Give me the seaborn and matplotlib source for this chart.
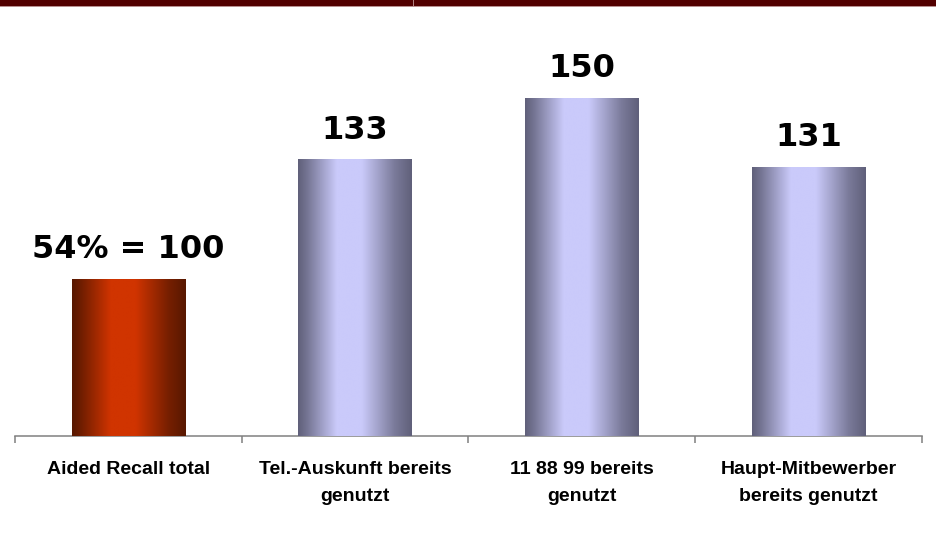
import matplotlib
matplotlib.use("Agg")
import matplotlib.pyplot as plt
import matplotlib.ticker as ticker
from matplotlib.colors import to_rgb
from matplotlib.patches import Rectangle
import numpy as np
import seaborn as sns

categories = [
    "Aided Recall total",
    "Tel.-Auskunft bereits\ngenutzt",
    "11 88 99 bereits\ngenutzt",
    "Haupt-Mitbewerber\nbereits genutzt",
]
values = [100, 133, 150, 131]
value_labels = ["54% = 100", "133", "150", "131"]
bar_styles = ["red", "blue", "blue", "blue"]

GRADIENTS = {
    "red": ("#581800", "#d03400"),
    "blue": ("#60607a", "#cacafa"),
}


def gradient_image(dark, light, n=200):
    t = np.linspace(0, 1, n)
    f = np.interp(t, [0, 0.08, 0.34, 0.56, 0.85, 1], [0, 0.2, 1, 1, 0.25, 0])
    d, l = np.array(to_rgb(dark)), np.array(to_rgb(light))
    row = d + (l - d) * f[:, None]
    return row[None, :, :]


sns.set_style("white")
fig = plt.figure(figsize=(9.37, 5.53), dpi=100)
ax = fig.add_axes([15 / 937, 1 - 436 / 553, 907 / 937, 396 / 553])

sns.barplot(x=list(range(len(values))), y=values, ax=ax, width=0.5,
            color="white", edgecolor="none", native_scale=True)

ymin, ymax = 56.35, 166.1
for patch, style in zip(ax.patches, bar_styles):
    x0, w, h = patch.get_x(), patch.get_width(), patch.get_height()
    img = ax.imshow(gradient_image(*GRADIENTS[style]), extent=(x0, x0 + w, ymin, h),
                    aspect="auto", zorder=3, interpolation="bilinear")
    img.set_clip_path(patch)
    patch.set_zorder(3)

for i, (v, lab) in enumerate(zip(values, value_labels)):
    ax.annotate(lab, (i, v), xytext=(0, 10), textcoords="offset points",
                ha="center", va="bottom", fontsize=23, fontweight="bold",
                family="DejaVu Sans", color="black")

ax.set_xlim(-0.5, len(values) - 0.5)
ax.set_ylim(ymin, ymax)
ax.set_xticks(range(len(values)))
ax.set_xticklabels(categories, fontsize=14, fontweight="bold", color="black",
                   family="Liberation Sans", linespacing=1.75)
ax.xaxis.set_minor_locator(ticker.FixedLocator(np.arange(-0.5, len(values), 1.0)))
ax.tick_params(axis="x", which="major", length=0, pad=18)
ax.tick_params(axis="x", which="minor", length=5, width=1.1, color="#808080",
               direction="out", bottom=True)
ax.set_yticks([])
for side in ["top", "right", "left"]:
    ax.spines[side].set_visible(False)
ax.spines["bottom"].set_color("#808080")
ax.spines["bottom"].set_linewidth(1.1)

# header band
fig.add_artist(Rectangle((0, 1 - 6 / 553), 1, 6 / 553, transform=fig.transFigure,
                         facecolor="#520000", edgecolor="none"))
fig.add_artist(Rectangle((0, 1 - 7 / 553), 1, 1 / 553, transform=fig.transFigure,
                         facecolor="#b89090", edgecolor="none"))
fig.add_artist(Rectangle((413 / 937, 1 - 6 / 553), 1 / 937, 6 / 553,
                         transform=fig.transFigure, facecolor="#b08080", edgecolor="none"))

fig.savefig("out.png", dpi=100)
